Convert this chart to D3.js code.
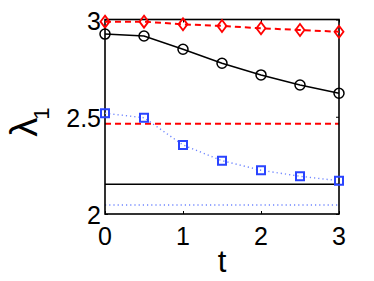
<!DOCTYPE html>
<html>
<head>
<meta charset="utf-8">
<script src="https://cdn.jsdelivr.net/npm/d3@7"></script>
<style>
  body { margin: 0; background: #fff; }
  text { font-family: "Liberation Sans", Arial, sans-serif; }
</style>
</head>
<body>
<div id="chart"></div>
<script>
// data
var tVals = [0, 0.5, 1, 1.5, 2, 2.5, 3];
var redVals = [2.989, 2.989, 2.975, 2.967, 2.955, 2.946, 2.937];
var blackVals = [2.925, 2.915, 2.847, 2.775, 2.715, 2.663, 2.621];
var blueVals = [2.518, 2.495, 2.355, 2.274, 2.225, 2.194, 2.171];
// horizontal reference levels
var refRed = 2.464, refBlack = 2.153, refBlue = 2.046;
var xTicks = [0, 1, 2, 3];
var yTicks = [2, 2.5, 3];

var W = 374, H = 281;
var margin = {top: 19.5, right: 35, bottom: 67, left: 105};
var width = W - margin.left - margin.right,
    height = H - margin.top - margin.bottom;

var svg = d3.select("#chart").append("svg")
    .attr("width", W).attr("height", H);
var g = svg.append("g")
    .attr("transform", "translate(" + margin.left + "," + margin.top + ")");

var x = d3.scaleLinear().domain([0, 3]).range([0, width]);
var y = d3.scaleLinear().domain([2, 3]).range([height, 0]);

// reference lines
function hline(v, color, dash, w) {
  g.append("line")
    .attr("x1", x(0)).attr("x2", x(3))
    .attr("y1", y(v)).attr("y2", y(v))
    .attr("stroke", color).attr("stroke-width", w)
    .attr("stroke-dasharray", dash);
}
hline(refRed, "#ff0000", "6,4", 2);
hline(refBlack, "#000", null, 1.4);
hline(refBlue, "#6f86ff", "1.2,3", 1.4);

// frame
g.append("rect").attr("width", width).attr("height", height)
  .attr("fill", "none").attr("stroke", "#000").attr("stroke-width", 1.6);

// inward ticks on all four sides
function noDomain(a) { a.select(".domain").remove(); }
g.append("g").attr("transform", "translate(0," + height + ")")
  .call(d3.axisTop(x).tickValues(xTicks).tickSize(3).tickFormat("")).call(noDomain);
g.append("g")
  .call(d3.axisBottom(x).tickValues(xTicks).tickSize(3).tickFormat("")).call(noDomain);
g.append("g")
  .call(d3.axisRight(y).tickValues(yTicks).tickSize(3).tickFormat("")).call(noDomain);
g.append("g").attr("transform", "translate(" + width + ",0)")
  .call(d3.axisLeft(y).tickValues(yTicks).tickSize(3).tickFormat("")).call(noDomain);

// tick labels
g.selectAll(".xl").data(xTicks).enter().append("text")
  .attr("x", function(d) { return x(d); }).attr("y", height + 31)
  .attr("text-anchor", "middle").attr("font-size", 25)
  .text(function(d) { return d; });
g.selectAll(".yl").data(yTicks).enter().append("text")
  .attr("x", -4).attr("y", function(d) { return y(d) + 10; })
  .attr("text-anchor", "end").attr("font-size", 25)
  .text(function(d) { return d; });

// series
var line = d3.line().x(function(d) { return x(d[0]); }).y(function(d) { return y(d[1]); });
function series(vals, lineColor, dash, w, symbol, markColor, markW) {
  var pts = tVals.map(function(t, i) { return [t, vals[i]]; });
  g.append("path").datum(pts)
    .attr("d", line).attr("fill", "none")
    .attr("stroke", lineColor).attr("stroke-width", w)
    .attr("stroke-dasharray", dash);
  g.selectAll(null).data(pts).enter().append("path")
    .attr("d", symbol)
    .attr("fill", "none").attr("stroke", markColor).attr("stroke-width", markW)
    .attr("transform", function(d) { return "translate(" + x(d[0]) + "," + y(d[1]) + ")"; });
}
var diamond = "M0,-6L4.5,0L0,6L-4.5,0Z";
var circle = "M5,0A5,5 0 1,1 -5,0A5,5 0 1,1 5,0Z";
var square = "M-4,-4H4V4H-4Z";

series(redVals, "#ff0000", "6,4", 2, diamond, "#ff0000", 1.8);
series(blackVals, "#000", null, 1.5, circle, "#000", 1.5);
series(blueVals, "#6f86ff", "1.2,3", 1.4, square, "#2a44ff", 2);

// axis labels
svg.append("text").attr("x", 222).attr("y", 272)
  .attr("text-anchor", "middle").attr("font-size", 31).text("t");
var yl = svg.append("text")
  .attr("transform", "translate(37,122) rotate(-90)")
  .attr("text-anchor", "middle").attr("font-size", 38);
yl.append("tspan").text("λ");
yl.append("tspan").attr("font-size", 22).attr("dx", -2).attr("dy", 12).text("1");
</script>
</body>
</html>
